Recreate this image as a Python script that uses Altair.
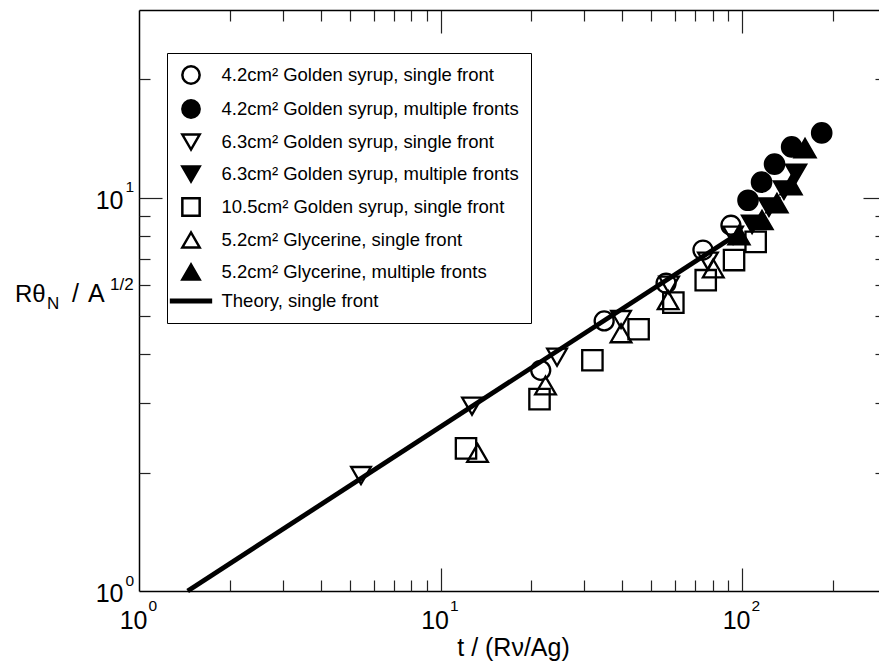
import altair as alt
import pandas as pd

# ---------------- data ----------------
series_names = [
    "4.2cm² Golden syrup, single front",
    "4.2cm² Golden syrup, multiple fronts",
    "6.3cm² Golden syrup, single front",
    "6.3cm² Golden syrup, multiple fronts",
    "10.5cm² Golden syrup, single front",
    "5.2cm² Glycerine, single front",
    "5.2cm² Glycerine, multiple fronts",
    "Theory, single front",
]
marker_shapes = ["circle", "circle", "triangle-down", "triangle-down", "square",
                 "triangle-up", "triangle-up", "M-2.3,-0.13L2.3,-0.13L2.3,0.13L-2.3,0.13Z"]
marker_fills = ["transparent", "black", "transparent", "black", "transparent",
                "transparent", "black", "black"]
marker_strokes = ["black"] * 8
marker_keys = [0, 1, 2, 3, 4, 5, 6]
marker_sizes = [361, 441, 576, 576, 225, 576, 576]

gs42_single_t = [21.5, 34.9, 56.0, 74.2, 91.9]
gs42_single_r = [3.64, 4.86, 6.06, 7.36, 8.51]

gs42_multi_t = [104.7, 116.1, 128.2, 146.1, 183.8]
gs42_multi_r = [9.85, 10.95, 12.17, 13.46, 14.61]

gs63_single_t = [5.45, 12.72, 24.35, 39.7, 57.3, 77.1, 93.4]
gs63_single_r = [1.966, 2.952, 3.93, 4.90, 5.99, 6.90, 8.03]

gs63_multi_t = [108.0, 122.9, 137.8, 151.1]
gs63_multi_r = [8.56, 9.46, 10.45, 11.54]

gs105_single_t = [12.15, 21.3, 31.9, 45.4, 59.2, 75.8, 94.1, 111.0]
gs105_single_r = [2.305, 3.075, 3.86, 4.63, 5.41, 6.17, 6.94, 7.72]

gly52_single_t = [13.27, 22.3, 39.7, 56.9, 80.3]
gly52_single_r = [2.243, 3.33, 4.52, 5.49, 6.61]

gly52_multi_t = [97.7, 116.5, 130.6, 145.4, 161.8]
gly52_multi_r = [8.03, 8.77, 9.68, 10.76, 13.36]

theory_t = [1.45, 97.0]
theory_r = [1.0, 8.1]

x_tick_values = [2, 3, 4, 5, 6, 7, 8, 9, 10, 20, 30, 40, 50, 60, 70, 80, 90, 100, 200]
y_tick_values = [2, 3, 4, 5, 6, 7, 8, 9, 10, 20]
x_decades = [1, 10, 100]
y_decades = [1, 10]

# ---------------- tables ----------------
all_t = [gs42_single_t, gs42_multi_t, gs63_single_t, gs63_multi_t,
         gs105_single_t, gly52_single_t, gly52_multi_t]
all_r = [gs42_single_r, gs42_multi_r, gs63_single_r, gs63_multi_r,
         gs105_single_r, gly52_single_r, gly52_multi_r]
rows = []
for key, name, ts, rs in zip(marker_keys, series_names[:7], all_t, all_r):
    for t, r in zip(ts, rs):
        rows.append({"series": name, "key": key, "t": t, "r": r})
points_df = pd.DataFrame(rows)
theory_df = pd.DataFrame({"t": theory_t, "r": theory_r})

W, H = 740, 581
FONT = "Liberation Sans"
xscale = alt.Scale(type="log", domain=[1, 284.7], nice=False)
yscale = alt.Scale(type="log", domain=[1, 30], nice=False)

major = "abs(log(datum.value)/LN10 - round(log(datum.value)/LN10)) < 0.001"
exp_expr = "'' + round(log(datum.value)/LN10)"

common = dict(grid=False, labelFont=FONT, labelColor="black", labelOverlap=False,
              labelFlush=False)

# x axes
ax_x_main = alt.Axis(orient="bottom", values=x_decades, labelExpr="'10'", labelFontSize=25,
                     labelAlign="right", labelOffset=8, labelBaseline="alphabetic",
                     labelPadding=37, ticks=False, tickSize=0, domain=True,
                     domainColor="black", domainWidth=1.5,
                     title="t / (Rν/Ag)", titleFont=FONT, titleFontSize=25,
                     titleFontWeight="normal", titleColor="black",
                     titleX=374, titleY=64, titleBaseline="alphabetic",
                     titleAnchor="middle", titleAlign="center", **common)
ax_x_exp = alt.Axis(orient="bottom", values=x_decades, labelExpr=exp_expr, labelFontSize=15.5,
                    labelAlign="left", labelOffset=9, labelBaseline="alphabetic",
                    labelPadding=19, ticks=False, tickSize=0, domain=False,
                    title=None, **common)
ax_x_ticks_bottom = alt.Axis(orient="top", offset=-H, values=x_tick_values,
                             labels=False, domain=False, title=None, grid=False,
                             tickColor="#222", tickWidth=1.2,
                             tickSize=alt.condition(major, alt.value(23), alt.value(11)))
ax_x_ticks_top = alt.Axis(orient="bottom", offset=-H, values=x_tick_values,
                          labels=False, domain=True, domainColor="black",
                          domainWidth=1.5, title=None, grid=False,
                          tickColor="#222", tickWidth=1.2,
                          tickSize=alt.condition(major, alt.value(23), alt.value(11)))

# y axes
ax_y_main = alt.Axis(orient="left", values=y_decades, labelExpr="'10'", labelFontSize=25,
                     labelAlign="right", labelOffset=10.5, labelBaseline="alphabetic",
                     labelPadding=16, ticks=False, tickSize=0, domain=True,
                     domainColor="black", domainWidth=1.5, title=None, **common)
ax_y_exp = alt.Axis(orient="left", values=y_decades, labelExpr=exp_expr, labelFontSize=15.5,
                    labelAlign="left", labelOffset=-6, labelBaseline="alphabetic",
                    labelPadding=14, ticks=False, tickSize=0, domain=False,
                    title=None, **common)
ax_y_ticks_left = alt.Axis(orient="right", offset=-W, values=y_tick_values,
                           labels=False, domain=False, title=None, grid=False,
                           tickColor="#222", tickWidth=1.2,
                           tickSize=alt.condition(major, alt.value(23), alt.value(11)))
ax_y_ticks_right = alt.Axis(orient="left", offset=-W, values=y_tick_values,
                            labels=False, domain=False, title=None, grid=False,
                            tickColor="#222", tickWidth=1.2,
                            tickSize=alt.condition(major, alt.value(16), alt.value(4)))

legend = alt.Legend(
    title=None, orient="none", legendX=28, legendY=43,
    strokeColor="black", fillColor="white", padding=12,
    labelFont=FONT, labelFontSize=18.5, labelColor="black",
    labelLimit=600, symbolSize=300, symbolStrokeWidth=2.5,
    symbolStrokeColor="black", rowPadding=6, labelOffset=20.5,
    symbolOffset=2,
)

points = alt.Chart(points_df).mark_point(
    filled=True, opacity=1, strokeWidth=2.3
).encode(
    x=alt.X("t:Q", scale=xscale, axis=ax_x_main),
    y=alt.Y("r:Q", scale=yscale, axis=ax_y_main),
    shape=alt.Shape("series:N", scale=alt.Scale(domain=series_names, range=marker_shapes),
                    legend=legend),
    fill=alt.Fill("series:N", scale=alt.Scale(domain=series_names, range=marker_fills),
                  legend=legend),
    stroke=alt.Stroke("series:N", scale=alt.Scale(domain=series_names, range=marker_strokes),
                      legend=legend),
    size=alt.Size("key:O", scale=alt.Scale(domain=marker_keys, range=marker_sizes),
                  legend=None),
)

line = alt.Chart(theory_df).mark_line(color="black", strokeWidth=4.8).encode(
    x=alt.X("t:Q", scale=xscale, axis=ax_x_exp),
    y=alt.Y("r:Q", scale=yscale, axis=ax_y_exp),
)

ticks1 = alt.Chart(theory_df).mark_point(opacity=0).encode(
    x=alt.X("t:Q", scale=xscale, axis=ax_x_ticks_bottom),
    y=alt.Y("r:Q", scale=yscale, axis=ax_y_ticks_left),
)
ticks2 = alt.Chart(theory_df).mark_point(opacity=0).encode(
    x=alt.X("t:Q", scale=xscale, axis=ax_x_ticks_top),
    y=alt.Y("r:Q", scale=yscale, axis=ax_y_ticks_right),
)

one = pd.DataFrame({"k": [0]})


def label(txt, x, y, size):
    return alt.Chart(one).mark_text(
        text=txt, font=FONT, fontSize=size, align="left", baseline="alphabetic",
        color="black"
    ).encode(x=alt.value(x), y=alt.value(y))


ytitle = [
    label("Rθ", -124, 291.7, 24),
    label("N", -92, 298.5, 17),
    label("/", -67, 291.7, 25),
    label("A", -51, 291.7, 25),
    label("1/2", -29, 280, 17),
]

chart = alt.layer(points, line, ticks1, ticks2, *ytitle).resolve_axis(
    x="independent", y="independent"
).properties(
    width=W, height=H,
    padding={"left": 139, "top": 10, "right": 0, "bottom": 73},
    autosize=alt.AutoSizeParams(type="none"),
).configure(font=FONT).configure_view(stroke=None)

chart.save("out.html", embed_options={"renderer": "svg", "actions": False})
